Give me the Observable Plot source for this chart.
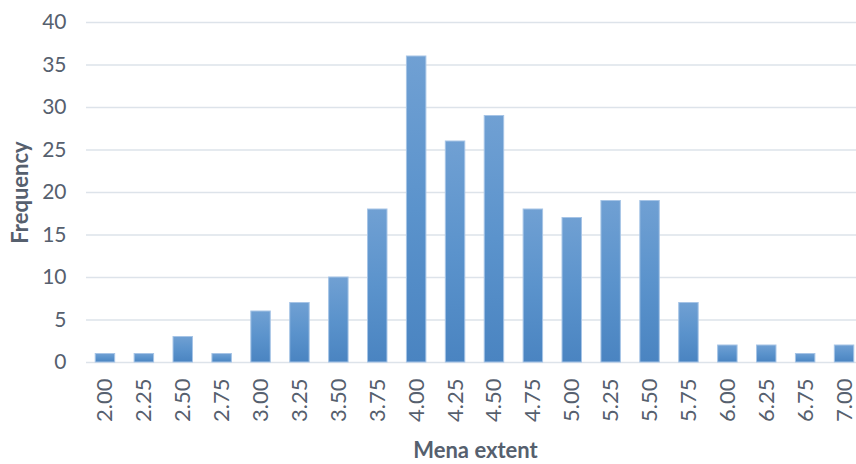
<!DOCTYPE html>
<html>
<head>
<meta charset="utf-8">
<script src="https://cdn.jsdelivr.net/npm/d3@7"></script>
<script src="https://cdn.jsdelivr.net/npm/@observablehq/plot@0.6"></script>
<style>
  html, body { margin: 0; padding: 0; background: #fff; }
  #chart svg { display: block; }
</style>
</head>
<body>
<div id="chart"></div>
<script>
// Bin labels (Mena extent) and their counts
const bins = ["2.00", "2.25", "2.50", "2.75", "3.00", "3.25", "3.50", "3.75", "4.00", "4.25",
              "4.50", "4.75", "5.00", "5.25", "5.50", "5.75", "6.00", "6.25", "6.75", "7.00"];
const counts = [1, 1, 3, 1, 6, 7, 10, 18, 36, 26, 29, 18, 17, 19, 19, 7, 2, 2, 1, 2];
const yTicks = [0, 5, 10, 15, 20, 25, 30, 35, 40];

const data = bins.map((bin, i) => ({bin, count: counts[i]}));

const textColor = "#56606e";
const font = "Lato, 'Open Sans', sans-serif";

const chart = Plot.plot({
  width: 856,
  height: 464,
  marginLeft: 86,
  marginRight: 0,
  marginTop: 22,
  marginBottom: 102,
  style: {fontFamily: font, fontSize: "22px", color: textColor, background: "#fff"},
  x: {domain: bins, range: [85.5, 863.5], paddingInner: 0.5, paddingOuter: 0.25, round: false, label: null},
  y: {domain: [0, 40], label: null},
  marks: [
    Plot.ruleY(yTicks, {stroke: "#dde3ea", strokeWidth: 1.5}),
    Plot.barY(data, {
      x: "bin",
      y: "count",
      fill: "url(#barGradient)",
      stroke: "#a6c4e6",
      strokeWidth: 1
    }),
    Plot.axisY({ticks: yTicks, tickSize: 0, tickPadding: 20, fontSize: 21, fill: textColor}),
    Plot.axisX({tickSize: 0, tickPadding: 16, tickRotate: -90, fontSize: 22, fill: textColor}),
    Plot.text(["Mena extent"], {
      frameAnchor: "bottom", dx: 4, dy: 88, lineAnchor: "middle",
      fontWeight: "bold", fontSize: 22, fill: textColor
    }),
    Plot.text(["Frequency"], {
      frameAnchor: "left", textAnchor: "middle", dx: -66, rotate: -90, lineAnchor: "middle",
      fontWeight: "bold", fontSize: 22, fill: textColor
    })
  ]
});

// Vertical gradient for each bar: lighter at the top, deeper blue at the base
const svg = d3.select(chart);
const defs = svg.insert("defs", ":first-child");
const grad = defs.append("linearGradient")
  .attr("id", "barGradient")
  .attr("x1", 0).attr("y1", 0).attr("x2", 0).attr("y2", 1);
grad.append("stop").attr("offset", "0%").attr("stop-color", "#70a0d3");
grad.append("stop").attr("offset", "50%").attr("stop-color", "#5b93cc");
grad.append("stop").attr("offset", "100%").attr("stop-color", "#4a84c1");

document.getElementById("chart").appendChild(chart);
</script>
</body>
</html>
